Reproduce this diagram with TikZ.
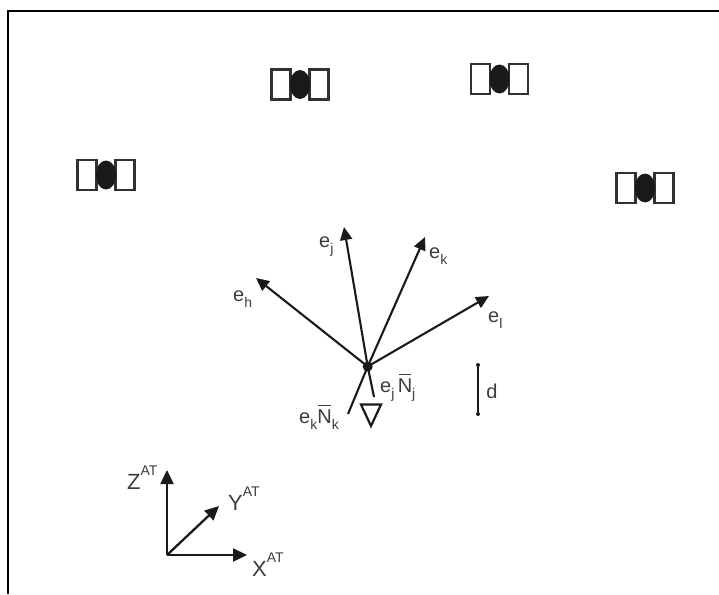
\documentclass[tikz,border=0pt]{standalone}
\usepackage{fontspec}
\setmainfont{Liberation Sans}
\usetikzlibrary{arrows.meta,shapes.geometric}
\definecolor{ink}{HTML}{1A1A1A}
\tikzset{
  x=1pt,y=-1pt,
  frameline/.style={draw=black,line width=2.2pt},
  panel/.style={draw=ink!90,line width=2.4pt,fill=white,minimum width=19pt,minimum height=30pt,inner sep=0pt},
  body/.style={fill=ink,ellipse,minimum width=20pt,minimum height=29pt,inner sep=0pt},
  vec/.style={draw=ink,line width=2.1pt,-{Triangle[length=13pt,width=12pt]}},
  axis/.style={draw=ink,line width=2.3pt,-{Triangle[length=14pt,width=13pt]}},
  plainline/.style={draw=ink,line width=2.1pt},
  lab/.style={inner sep=0pt,font=\fontsize{20}{20}\selectfont,text=ink!85},
  axlab/.style={inner sep=0pt,font=\fontsize{22}{22}\selectfont,text=ink!85},
  tick/.style={circle,fill=ink,minimum size=4pt,inner sep=0pt},
}
\newcommand{\satellite}[3]{%
  \node[panel] (#1l) at (#2-19,#3) {};
  \node[panel] (#1r) at (#2+19,#3) {};
  \node[body] (#1b) at (#2,#3) {};
}
\newcommand{\lowtxt}[1]{\raisebox{-0.32em}{\fontsize{14}{14}\selectfont #1}}
\newcommand{\uptxt}[1]{\raisebox{0.62em}{\fontsize{14}{14}\selectfont #1}}
\newcommand{\barN}{\ooalign{N\cr\hidewidth\raisebox{0.83em}{\rule{0.62em}{0.09em}}\hidewidth\cr}}
\begin{document}
\begin{tikzpicture}
\useasboundingbox (0,0) rectangle (719,594);
\coordinate (fbl) at (8,594);
\coordinate (ftl) at (8,11);
\coordinate (ftr) at (719,11);
\draw[frameline] (fbl) -- (ftl) -- (ftr);
\satellite{sa}{106}{175}
\satellite{sb}{300}{84.5}
\satellite{sc}{499.5}{79}
\satellite{sd}{645}{188}
\coordinate (o) at (367.7,366.5);
\coordinate (th) at (256,278);
\coordinate (tj) at (344,227);
\coordinate (tk) at (425,237);
\coordinate (tl) at (489,296);
\coordinate (nk) at (348,414);
\coordinate (nj) at (374,397);
\draw[vec] (o) -- (th);
\draw[vec] (o) -- (tj);
\draw[vec] (o) -- (tk);
\draw[vec] (o) -- (tl);
\draw[plainline] (o) -- (nk);
\draw[plainline] (o) -- (nj);
\node[circle,fill=ink,minimum size=10pt,inner sep=0pt] (hub) at (o) {};
\coordinate (tra) at (361,404.5);
\coordinate (trb) at (381,404.5);
\coordinate (trc) at (371,426);
\draw[draw=ink,line width=2.2pt,line join=miter] (tra) -- (trb) -- (trc) -- cycle;
\node[tick] (da) at (478,365) {};
\node[tick] (db) at (478,414) {};
\draw[draw=ink,line width=1.5pt] (da) -- (db);
\node[lab] (d) at (492,391) {d};
\node[lab,anchor=base west] (leh) at (233,301) {e\lowtxt{h}};
\node[lab,anchor=base west] (lej) at (319,247) {e\lowtxt{j}};
\node[lab,anchor=base west] (lek) at (429,258) {e\lowtxt{k}};
\node[lab,anchor=base west] (lel) at (488,322) {e\lowtxt{l}};
\node[lab,anchor=base west] (lnj) at (380,392) {e\lowtxt{j}\,\barN\lowtxt{j}};
\node[lab,anchor=base west] (lnk) at (299,423) {e\lowtxt{k}\barN\lowtxt{k}};
\coordinate (ao) at (167,555);
\coordinate (az) at (167,470);
\coordinate (ax) at (247,555);
\coordinate (ay) at (219,506);
\draw[axis] (ao) -- (az);
\draw[axis] (ao) -- (ax);
\draw[axis] (ao) -- (ay);
\node[axlab,anchor=base west] (lz) at (127,489) {Z\uptxt{AT}};
\node[axlab,anchor=base west] (ly) at (228,510) {Y\uptxt{AT}};
\node[axlab,anchor=base west] (lx) at (252,576) {X\uptxt{AT}};
\end{tikzpicture}
\end{document}
